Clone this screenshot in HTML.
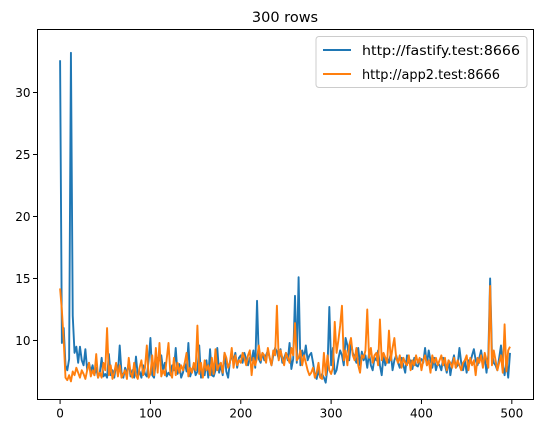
<!DOCTYPE html>
<html><head><meta charset="utf-8">
<style>
html,body{margin:0;padding:0;background:#fff;}
svg{display:block;font-family:"DejaVu Sans","Liberation Sans",sans-serif;}
</style></head>
<body>
<svg id="chart" width="543" height="435" viewBox="0 0 543 435" xmlns="http://www.w3.org/2000/svg">
<rect width="543" height="435" fill="#fff"/>
<text x="285" y="22" text-anchor="middle" font-size="14.5" fill="#000">300 rows</text>
<g id="plot"></g>
<rect x="37.5" y="29.5" width="496" height="370" fill="none" stroke="#000" stroke-width="1"/>
<g id="xaxis"></g>
<g id="yaxis"></g>
<g>
<rect x="316" y="36.5" width="211" height="51" rx="3" fill="#fff" fill-opacity="0.8" stroke="#ccc"/>
<g>
<line x1="323" y1="50" x2="351" y2="50" stroke="#1f77b4" stroke-width="2"/>
<text x="362" y="55" font-size="13.5" fill="#000" textLength="158" lengthAdjust="spacingAndGlyphs">http://fastify.test:8666</text>
</g>
<g>
<line x1="323" y1="74" x2="351" y2="74" stroke="#ff7f0e" stroke-width="2"/>
<text x="362" y="79" font-size="13.5" fill="#000" textLength="138" lengthAdjust="spacingAndGlyphs">http://app2.test:8666</text>
</g>
</g>
</svg>
<script>
const xStep = 2;
const xTicks = [0,100,200,300,400,500];
const yTicks = [10,15,20,25,30];
const fastify = [
32.6,9.8,11.0,8.0,7.6,8.5,33.2,12.0,9.0,9.5,8.2,9.5,8.4,8.0,9.3,7.6,8.2,7.5,8.0,7.2,7.8,7.0,7.4,8.6,7.1,
7.3,7.0,8.9,7.2,7.6,7.0,8.1,7.3,9.6,7.4,7.0,7.8,7.2,8.3,7.1,7.6,7.0,8.7,7.2,7.5,7.0,8.0,7.3,7.1,8.4,
10.2,7.2,7.0,8.3,8.6,8.4,8.8,7.6,8.2,7.1,7.4,7.2,8.0,7.6,9.4,7.3,8.1,7.0,7.4,8.2,7.5,9.8,7.1,7.6,8.0,
7.2,7.5,9.6,7.0,7.4,7.2,8.4,7.0,9.3,7.2,7.1,7.6,9.4,7.4,8.0,7.2,9.0,7.5,7.0,8.3,8.7,8.4,9.0,7.8,8.6,
8.8,8.2,9.0,8.5,8.0,8.6,8.4,9.2,7.8,13.2,8.5,8.2,9.0,8.4,8.8,9.2,8.6,8.0,8.8,9.4,9.1,8.5,9.3,8.2,8.6,
9.0,8.4,9.8,7.7,8.5,13.6,8.2,15.1,8.0,9.2,8.6,9.6,8.4,8.8,9.0,8.2,7.2,6.9,7.6,7.0,7.3,7.0,6.6,7.8,12.7,
8.0,9.4,7.3,7.6,8.5,9.2,8.8,8.0,10.2,9.6,8.4,9.8,9.0,8.6,8.2,9.4,8.0,9.1,8.4,8.8,7.8,9.0,8.0,7.6,8.6,
8.4,9.2,8.0,7.2,8.8,8.0,8.6,8.2,9.0,7.6,8.4,8.8,8.2,7.8,8.6,8.0,7.4,8.8,8.2,8.4,7.7,8.6,8.0,7.9,8.4,
8.5,8.2,9.4,8.0,9.2,8.4,7.8,8.6,7.6,8.2,8.0,7.6,8.6,8.0,7.4,8.4,7.2,8.2,8.8,7.8,8.0,9.4,8.2,7.6,8.4,
7.4,8.4,8.2,8.8,9.3,8.4,8.0,8.6,9.2,8.2,8.6,7.4,8.8,15.0,9.0,8.2,8.0,7.6,8.6,9.6,8.0,7.2,8.4,7.0,9.0
];
const app2 = [
14.2,12.4,10.0,7.0,6.8,7.2,6.7,7.5,7.2,7.8,7.4,7.0,7.6,7.3,6.9,7.6,8.2,7.1,7.6,7.2,8.9,7.0,7.4,7.0,8.2,
7.6,11.0,7.2,8.0,6.9,7.4,8.2,7.1,8.0,7.0,7.3,7.6,6.9,8.6,7.4,7.0,8.2,7.2,6.9,7.8,8.4,7.2,7.8,9.6,7.0,
7.3,8.8,7.2,9.4,7.4,9.8,7.1,7.6,7.2,8.5,9.8,7.4,7.0,8.6,7.2,8.2,7.4,8.0,7.6,8.2,9.0,7.1,7.8,7.4,8.2,
7.6,11.2,7.3,8.2,7.0,8.4,7.6,8.0,7.2,8.6,7.3,9.3,7.6,8.0,8.2,7.4,9.0,8.6,7.8,8.2,9.4,7.8,8.8,8.0,8.4,
8.2,9.0,8.6,8.0,8.8,9.2,7.2,8.6,8.0,8.6,9.6,8.4,9.0,8.8,8.2,9.4,8.6,8.0,9.2,8.8,12.8,8.4,9.2,8.6,8.0,
9.0,8.6,8.2,9.4,8.8,11.4,8.4,8.6,9.2,8.0,8.8,8.2,7.6,7.2,7.4,7.8,7.0,7.4,8.2,7.0,6.9,9.0,7.2,8.8,7.6,
7.3,7.8,11.5,9.0,10.0,11.2,12.8,8.4,9.2,8.0,9.6,10.2,8.8,8.4,9.4,8.0,7.4,8.8,8.6,9.2,12.5,8.6,9.4,8.2,8.8,
9.0,8.0,11.7,8.4,9.0,8.6,8.2,10.8,8.4,9.4,10.2,8.6,8.2,8.8,7.8,8.6,8.2,8.0,8.8,7.6,8.4,8.0,8.8,8.2,8.6,
7.6,8.4,8.8,8.0,8.4,7.4,8.8,8.2,8.6,8.0,8.4,8.8,8.0,8.6,7.6,8.4,8.2,7.8,8.6,7.8,8.4,8.0,7.6,8.2,8.4,
8.8,7.6,8.6,8.0,8.4,7.2,8.6,8.2,8.8,7.8,9.0,8.4,7.8,14.4,8.0,9.2,8.4,7.6,8.2,8.8,7.4,11.3,7.5,9.2,9.5
];
const NS = "http://www.w3.org/2000/svg";
const L = 37.5, R = 533.5, T = 29.5, B = 399.5;
const xMin = -25, xMax = 524, yMin = 5.24, yMax = 35.08;
function xs(v){ return L + (v - xMin) / (xMax - xMin) * (R - L); }
function ys(v){ return B - (v - yMin) / (yMax - yMin) * (B - T); }
function mk(tag, attrs, parent){ const e = document.createElementNS(NS, tag); for (const k in attrs) e.setAttribute(k, attrs[k]); parent.appendChild(e); return e; }
const plot = document.getElementById('plot');
function series(vals, color, name){
  const d = vals.map((v,i)=>(i?'L':'M') + xs(i*xStep).toFixed(2) + ' ' + ys(v).toFixed(2)).join(' ');
  const p = mk('path', {d:d, fill:'none', stroke:color, 'stroke-width':1.9, 'stroke-linejoin':'round'}, plot);
  
  
}
series(fastify, '#1f77b4', 'series-fastify');
series(app2, '#ff7f0e', 'series-app2');
const xa = document.getElementById('xaxis');
xTicks.forEach(t=>{
  const g = mk('g', {}, xa);
  
  
  const x = xs(t);
  mk('line', {x1:x, y1:B, x2:x, y2:B+4.5, stroke:'#000', 'stroke-width':1}, g);
  const tx = mk('text', {x:x, y:B+18, 'text-anchor':'middle', 'font-size':12, fill:'#000'}, g);
  tx.textContent = t;
});
const ya = document.getElementById('yaxis');
yTicks.forEach(t=>{
  const g = mk('g', {}, ya);
  
  
  const y = ys(t);
  mk('line', {x1:L-4.5, y1:y, x2:L, y2:y, stroke:'#000', 'stroke-width':1}, g);
  const tx = mk('text', {x:L-7, y:y+4.3, 'text-anchor':'end', 'font-size':12, fill:'#000'}, g);
  tx.textContent = t;
});
</script>
</body></html>
